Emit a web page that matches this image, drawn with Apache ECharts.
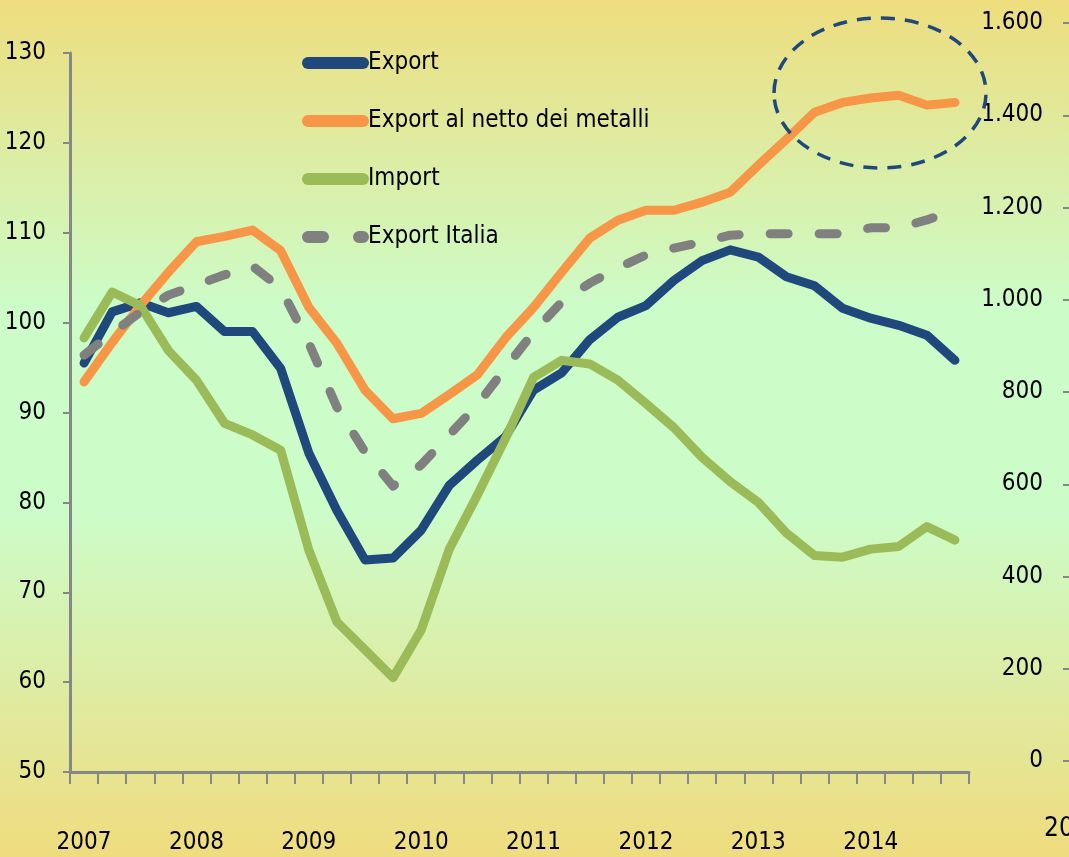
<!DOCTYPE html>
<html>
<head>
<meta charset="utf-8">
<script src="https://cdn.jsdelivr.net/npm/echarts@6/dist/echarts.min.js"></script>
<style>
  html, body { margin: 0; padding: 0; }
  #chart { width: 1069px; height: 857px; }
</style>
</head>
<body>
<div id="chart"></div>
<script>
// trimestri 2007-2014
const years = ["2007", "2008", "2009", "2010", "2011", "2012", "2013", "2014"];
const quarters = ["I", "II", "III", "IV"];

// indici (asse sinistro)
const exportData = [95.5, 101.2, 102.2, 101.1, 101.8, 99.0, 99.0, 94.9,
  85.5, 79.1, 73.6, 73.8, 76.9, 81.9, 84.7, 87.3,
  92.5, 94.4, 98.1, 100.6, 101.9, 104.7, 106.9, 108.1,
  107.3, 105.1, 104.1, 101.6, 100.5, 99.7, 98.6, 95.8];
const exportNetto = [93.4, 97.8, 101.9, 105.6, 109.0, 109.6, 110.3, 108.0,
  101.7, 97.7, 92.5, 89.3, 89.9, 92.0, 94.2, 98.3,
  101.7, 105.6, 109.4, 111.4, 112.5, 112.5, 113.4, 114.5,
  117.5, 120.4, 123.4, 124.5, 125.0, 125.3, 124.2, 124.5];
const importData = [98.3, 103.4, 101.9, 96.9, 93.6, 88.8, 87.5, 85.8,
  74.7, 66.7, 63.6, 60.5, 65.8, 74.8, 80.8, 87.1,
  93.9, 95.8, 95.4, 93.6, 91.0, 88.3, 85.0, 82.3,
  80.0, 76.6, 74.1, 73.9, 74.8, 75.1, 77.3, 75.8];
// asse destro
const exportItalia = [880, 928, 973, 1010, 1032, 1054, 1073, 1025,
  906, 767, 670, 596, 642, 707, 772, 852,
  930, 995, 1036, 1069, 1097, 1112, 1125, 1140,
  1143, 1143, 1143, 1143, 1156, 1156, 1173, 1195];

const categories = [];
years.forEach((y) => quarters.forEach((q) => categories.push(y + " " + q)));

const FONT = "'Liberation Sans Narrow', 'DejaVu Sans Condensed', 'Arial Narrow', sans-serif";
const AXIS_GRAY = "#878787";

function fmtThousands(v) {
  if (v >= 1000) {
    return Math.floor(v / 1000) + "." + String(v % 1000).padStart(3, "0");
  }
  return String(v);
}

const chart = echarts.init(document.getElementById("chart"));

const lineSeries = (name, data, color, extra) =>
  Object.assign(
    {
      name,
      type: "line",
      data,
      symbol: "none",
      showSymbol: false,
      lineStyle: { color, width: 9, cap: "round", join: "round" },
      itemStyle: { color },
    },
    extra || {}
  );

const option = {
  animation: false,
  backgroundColor: {
    type: "linear",
    x: 0, y: 0, x2: 0, y2: 1,
    colorStops: [
      { offset: 0, color: "#EEDD7E" },
      { offset: 0.36, color: "#CCFCC8" },
      { offset: 0.6, color: "#CCFCC8" },
      { offset: 1, color: "#EFDC7E" },
    ],
  },
  legend: {
    orient: "vertical",
    left: 297,
    top: 40,
    itemWidth: 55,
    itemHeight: 14,
    itemGap: 22,
    itemStyle: { opacity: 0 }, // niente simbolo al centro dell'icona
    lineStyle: { width: 12 },
    textStyle: { fontFamily: FONT, fontSize: 24, color: "#000", lineHeight: 36 },
    data: [
      "Export",
      "Export al netto dei metalli",
      "Import",
      { name: "Export Italia", lineStyle: { width: 12, type: [15, 36], cap: "round" } },
    ],
  },
  grid: [
    { left: 70, right: 100, top: 53, bottom: 85 },
    { left: 70, right: 100, top: 23, bottom: 96 },
  ],
  xAxis: [
    {
      type: "category",
      gridIndex: 0,
      data: categories,
      boundaryGap: true,
      axisLine: { lineStyle: { color: AXIS_GRAY, width: 3 } },
      axisTick: { show: true, interval: 0, length: 12, lineStyle: { color: AXIS_GRAY, width: 2 } },
      axisLabel: {
        interval: 3,
        margin: 59,
        fontFamily: FONT,
        fontSize: 24,
        color: "#000",
        formatter: (v) => v.split(" ")[0],
      },
      splitLine: { show: false },
    },
    {
      type: "category",
      gridIndex: 1,
      data: categories,
      boundaryGap: true,
      show: false,
    },
  ],
  yAxis: [
    {
      type: "value",
      gridIndex: 0,
      min: 50,
      max: 130,
      interval: 10,
      axisLine: { show: true, lineStyle: { color: AXIS_GRAY, width: 3 } },
      axisTick: { show: true, length: 7, lineStyle: { color: AXIS_GRAY, width: 2 } },
      axisLabel: { margin: 24, fontFamily: FONT, fontSize: 24, color: "#000" },
      splitLine: { show: false },
    },
    {
      type: "value",
      gridIndex: 1,
      position: "right",
      offset: 102,
      min: 0,
      max: 1600,
      interval: 200,
      axisLine: { show: false },
      axisTick: { show: true, inside: true, length: 8, lineStyle: { color: AXIS_GRAY, width: 2 } },
      axisLabel: {
        inside: true,
        margin: 28,
        fontFamily: FONT,
        fontSize: 24,
        color: "#000",
        formatter: fmtThousands,
      },
      splitLine: { show: false },
    },
  ],
  series: [
    lineSeries("Export", exportData, "#1F497D"),
    lineSeries("Export al netto dei metalli", exportNetto, "#F79646"),
    lineSeries("Import", importData, "#9BBB59"),
    lineSeries("Export Italia", exportItalia, "#808080", {
      xAxisIndex: 1,
      yAxisIndex: 1,
      lineStyle: { color: "#808080", width: 9, type: [18, 31], cap: "round", join: "round" },
    }),
  ],
  graphic: [
    {
      type: "ellipse",
      shape: { cx: 880, cy: 93, rx: 106, ry: 75 },
      style: { fill: null, stroke: "#1F497D", lineWidth: 3.5, lineDash: [14, 10] },
      z: 10,
    },
    {
      type: "text",
      left: 1044,
      top: 816,
      style: { text: "2015", font: "26px " + FONT, fill: "#000" },
    },
  ],
};

chart.setOption(option);
</script>
</body>
</html>
